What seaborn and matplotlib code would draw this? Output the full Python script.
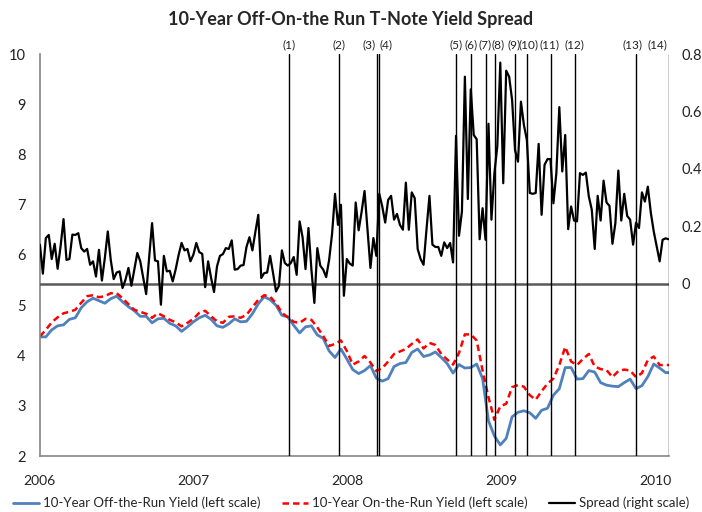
import numpy as np
import pandas as pd
import matplotlib
matplotlib.use("Agg")
import matplotlib.pyplot as plt
import matplotlib.dates as mdates
import matplotlib.transforms as mtransforms
import seaborn as sns
from matplotlib.lines import Line2D

sns.set_style("white")
plt.rcParams['font.family'] = ['Lato', 'DejaVu Sans']

# weekly spread (right scale), starting 2006-01-02
spread = [
    .136, .035, .159, .170, .086, .139, .052, .13, .225, .083,
    .086, .171, .170, .176, .124, .112, .121, .066, .078, .025,
    .118, .011, .09, .182, .083, .016, .039, .043, -.015, .014,
    .055, -.007, .05, .107, .078, .02, -.036, .09, .211, .081,
    .078, -.073, .097, .043, .045, .008, .05, .10, .142, .116,
    .121, .078, .101, .142, .110, .104, -.012,
    .078, .02, -.029, .060, .097, .103, .124, .121, .151, .049,
    .051, .063, .065, .128, .162, .116, .18, .240, .020, .037,
    .039, .097, .037, -.027, -.007, .116, .072, .063, .072, .093,
    .031, .217, .162, .051, .194, .049, -.067, .124, .063, .049,
    .023, .083, .174, .313, .205, .275, -.042, .086, .070, .063,
    .283, .186,
    .25, .323, .19, .055, .159, .097, .313, .269, .213, .292,
    .306, .223, .243, .205, .188, .352, .188, .318, .298, .121,
    .086, .066, .19, .306, .136, .128, .128, .097, .144, .124,
    .142, .074, .515, .167, .251, .721, .295, .677, .518, .503,
    .155, .263, .153, .557, .223, .385, .480, .770, .350, .742,
    .721, .64, .465, .425, .634, .553, .501, .316, .313, .316,
    .487, .240, .414, .434, .434, .280, .385, .615, .391, .518,
    .190, .269, .220, .217, .385, .379, .387, .304, .258, .121,
    .306, .220, .359, .283, .271, .139, .211, .394, .220, .313,
    .236, .223, .136, .213, .194, .318, .286, .338, .248, .182,
    .13, .078, .153, .158, .155,
]

# biweekly yields (left scale), starting 2006-01-02
off_run = [
    4.37, 4.37, 4.51, 4.59, 4.61, 4.72, 4.75, 4.95, 5.07, 5.14,
    5.09, 5.04, 5.13, 5.18, 5.07, 4.97, 4.89, 4.78, 4.78, 4.65,
    4.73, 4.74, 4.64, 4.59, 4.48, 4.57, 4.67, 4.75, 4.80, 4.72,
    4.59, 4.56, 4.63, 4.73, 4.67, 4.68, 4.83, 5.03, 5.17, 5.11,
    5.00, 4.80, 4.77, 4.60, 4.45, 4.57, 4.59, 4.41, 4.34, 4.09,
    3.96, 4.13, 3.93, 3.72, 3.64, 3.70, 3.80, 3.55, 3.49, 3.54,
    3.78, 3.84, 3.86, 4.06, 4.13, 3.98, 4.01, 4.07, 3.96, 3.84,
    3.65, 3.82, 3.75, 3.76, 3.83, 3.54, 2.70, 2.40, 2.22, 2.35,
    2.78, 2.87, 2.90, 2.86, 2.75, 2.91, 2.95, 3.21, 3.34, 3.76,
    3.76, 3.53, 3.54, 3.70, 3.67, 3.46, 3.41, 3.39, 3.38, 3.46,
    3.53, 3.34, 3.40, 3.58, 3.83, 3.75, 3.66, 3.66,
]
on_run = [
    4.38, 4.51, 4.66, 4.76, 4.84, 4.87, 4.91, 5.05, 5.18, 5.20,
    5.16, 5.18, 5.24, 5.24, 5.14, 5.02, 4.91, 4.87, 4.83, 4.75,
    4.84, 4.78, 4.71, 4.66, 4.58, 4.65, 4.73, 4.85, 4.89, 4.78,
    4.68, 4.65, 4.77, 4.78, 4.75, 4.81, 4.96, 5.11, 5.20, 5.17,
    5.04, 4.85, 4.76, 4.67, 4.65, 4.73, 4.71, 4.56, 4.39, 4.19,
    4.23, 4.30, 4.09, 3.82, 3.88, 3.99, 3.86, 3.69, 3.75, 3.88,
    4.03, 4.08, 4.13, 4.23, 4.32, 4.14, 4.25, 4.21, 4.03, 3.92,
    3.82, 4.05, 4.42, 4.42, 4.30, 3.70, 3.17, 2.72, 2.99, 3.04,
    3.37, 3.41, 3.38, 3.21, 3.12, 3.29, 3.44, 3.54, 3.81, 4.17,
    3.88, 3.81, 3.93, 4.03, 3.78, 3.73, 3.71, 3.57, 3.69, 3.72,
    3.70, 3.57, 3.65, 3.91, 3.98, 3.81, 3.81, 3.81,
]

event_dates = ["2007-08-17", "2007-12-12", "2008-03-11", "2008-03-16",
               "2008-09-15", "2008-10-21", "2008-11-25", "2008-12-16",
               "2009-02-01", "2009-03-02", "2009-04-29", "2009-06-24",
               "2009-11-16", "2010-02-01"]
event_labels = ["(%d)" % i for i in range(1, 15)]
years = ["2006", "2007", "2008", "2009", "2010"]

spread_df = pd.DataFrame({"date": pd.date_range("2006-01-02", periods=len(spread), freq="7D"),
                          "spread": spread})
yield_df = pd.DataFrame({"date": pd.date_range("2006-01-02", periods=len(off_run), freq="14D"),
                         "off": off_run, "on": on_run})

blue = "#4F81BD"
fig = plt.figure(figsize=(7.02, 5.12), dpi=100)
ax = fig.add_axes([39.5 / 702, 56 / 512, 629 / 702, 402 / 512])
ax2 = ax.twinx()

sns.lineplot(data=yield_df, x="date", y="off", ax=ax, color=blue, lw=2.0, legend=False)
sns.lineplot(data=yield_df, x="date", y="on", ax=ax, color="#FF0000", lw=1.8,
             linestyle=(0, (2.6, 1.6)), legend=False)
sns.lineplot(data=spread_df, x="date", y="spread", ax=ax2, color="black", lw=1.6, legend=False)

ax.set_xlim(pd.Timestamp("2006-01-01"), pd.Timestamp("2010-02-01"))
ax.set_ylim(2, 10)
ax.set_yticks(range(2, 11))
ax.set_xticks([pd.Timestamp(y + "-01-01") for y in years])
ax.set_xticklabels(years)
ax.set_xlabel("")
ax.set_ylabel("")
ax.tick_params(axis="y", length=0, pad=10, labelsize=10.5, colors="#222222")
ax.tick_params(axis="x", length=0, pad=14, labelsize=10, colors="#222222")
for s in ["top", "right"]:
    ax.spines[s].set_visible(False)
for s in ["left", "bottom"]:
    ax.spines[s].set_color("#868686")
    ax.spines[s].set_linewidth(1.2)

ax2.set_ylim(-0.6, 0.8)
ax2.set_yticks([0, 0.2, 0.4, 0.6, 0.8])
ax2.set_yticklabels(["0", "0.2", "0.4", "0.6", "0.8"])
ax2.set_ylabel("")
ax2.tick_params(axis="y", length=0, pad=9, labelsize=10.5, colors="#222222")
for s in ax2.spines.values():
    s.set_visible(False)
ax2.axhline(0, color="#595959", lw=1.8, zorder=1)

# event markers; crowded labels get a small sideways nudge (pixels)
trans = mtransforms.blended_transform_factory(ax2.transData, ax2.transAxes)
align = {"(3)": "right", "(4)": "left", "(14)": "right"}
nudge = {"(3)": -1, "(4)": 1, "(7)": -1, "(8)": 3, "(9)": -1, "(10)": 2,
         "(11)": -2, "(13)": -4, "(14)": -1}
for d, lab in zip(event_dates, event_labels):
    ax2.axvline(pd.Timestamp(d), color="black", lw=1.0, zorder=1)
    ax2.annotate(lab, xy=(mdates.date2num(pd.Timestamp(d)), 1.008), xycoords=trans,
                 xytext=(nudge.get(lab, 0), 0), textcoords="offset pixels",
                 ha=align.get(lab, "center"), va="bottom", fontsize=8.5, color="#222222")

fig.text(0.5, 1 - 19 / 512, "10-Year Off-On-the Run T-Note Yield Spread",
         ha="center", va="center", fontsize=13, fontweight="bold")

handles = [Line2D([], [], color=blue, lw=2.0),
           Line2D([], [], color="#FF0000", lw=1.8, linestyle=(0, (2.6, 1.6))),
           Line2D([], [], color="black", lw=1.6)]
labels = ["10-Year Off-the-Run Yield (left scale)",
          "10-Year On-the-Run Yield (left scale)",
          "Spread (right scale)"]
fig.legend(handles, labels, loc="center", bbox_to_anchor=(0.5, 1 - 503 / 512), ncol=3,
           frameon=False, fontsize=9.5, handlelength=2.0, handletextpad=0.3, columnspacing=1.6)

fig.savefig("out.png", dpi=100)
